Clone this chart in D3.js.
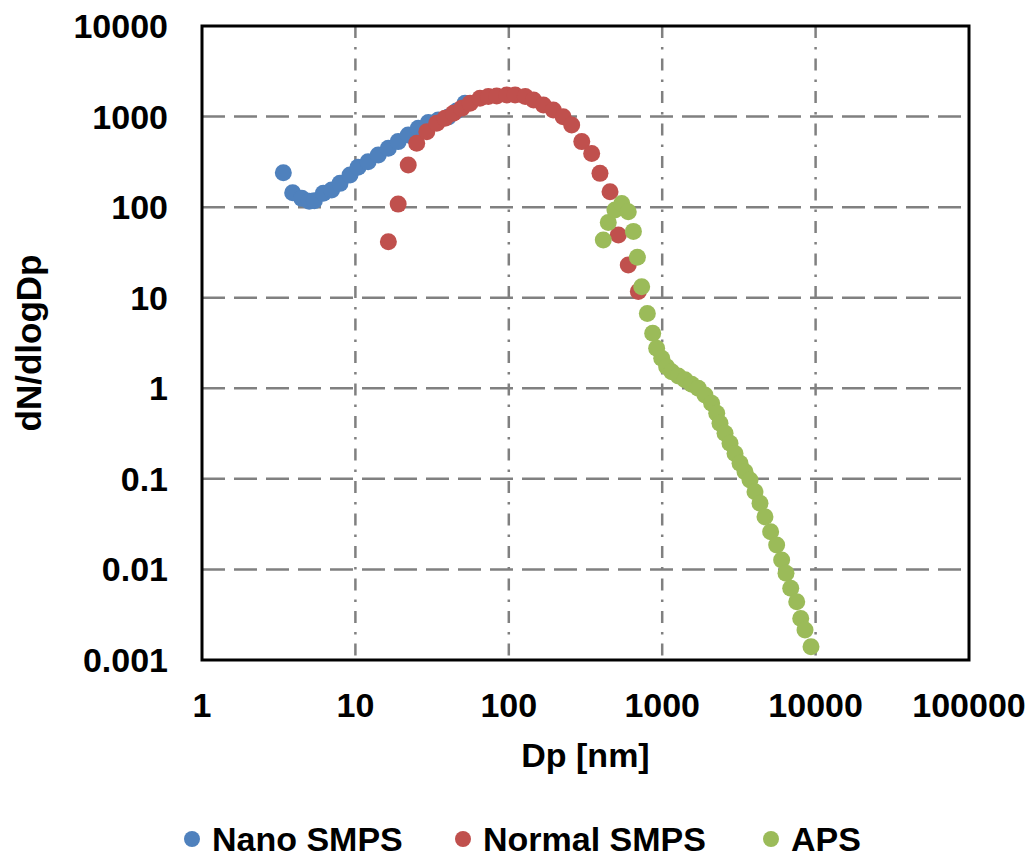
<!DOCTYPE html>
<html>
<head>
<meta charset="utf-8">
<script src="https://cdn.jsdelivr.net/npm/d3@7"></script>
<style>
  body { margin: 0; background: #fff; }
  text { font-family: "Liberation Sans", Arial, sans-serif; font-weight: bold; fill: #000; }
</style>
</head>
<body>
<svg id="chart" width="1035" height="857"></svg>
<script>
// Nano SMPS
var nanoDp = [3.39, 3.90, 4.47, 5.0, 5.4, 6.18, 7.0, 7.94, 9.22, 10.4, 12.1, 14.1, 16.4, 19.0, 22.1, 25.7, 29.9, 34.7, 40.3, 45.7, 51.8];
var nanoN  = [240, 144, 125, 116, 118, 142, 155, 183, 226, 275, 318, 377, 446, 529, 626, 743, 860, 916, 990, 1150, 1400];

// Normal SMPS
var normalDp = [16.4, 19.0, 22.1, 25.1, 29.2, 33.9, 38.4, 43.5, 49.3, 55.9, 64.9, 73.5, 83.4, 96.9, 110, 128, 145, 168, 195, 226, 257, 299, 347, 393, 457, 518, 601, 699];
var normalN  = [41.6, 108, 292, 507, 681, 843, 957, 1087, 1233, 1401, 1593, 1661, 1688, 1731, 1731, 1661, 1525, 1342, 1183, 998, 807, 529, 392, 236, 148, 49.3, 23.0, 11.7];

// APS
var apsDp = [413, 445, 492, 545, 601, 649, 689, 735, 800, 867, 920, 993, 1069, 1153, 1274, 1408, 1556, 1719, 1900, 2100, 2267, 2380, 2568, 2767, 2983, 3216, 3467, 3735, 4026, 4340, 4677, 5094, 5574, 6008, 6412, 6884, 7533, 8000, 8532, 9333];
var apsN  = [43.4, 67.5, 93, 110, 89, 54, 28, 13.2, 6.7, 4.05, 2.76, 2.14, 1.73, 1.52, 1.37, 1.24, 1.11, 1.0, 0.843, 0.683, 0.53, 0.41, 0.318, 0.247, 0.191, 0.149, 0.120, 0.097, 0.072, 0.0537, 0.0382, 0.0261, 0.0186, 0.0127, 0.00905, 0.00618, 0.0044, 0.00288, 0.00214, 0.0014];

var xTicks = [1, 10, 100, 1000, 10000, 100000];
var xTickLabels = ["1", "10", "100", "1000", "10000", "100000"];
var yTicks = [0.001, 0.01, 0.1, 1, 10, 100, 1000, 10000];
var yTickLabels = ["0.001", "0.01", "0.1", "1", "10", "100", "1000", "10000"];

var seriesNames = ["Nano SMPS", "Normal SMPS", "APS"];
var seriesColors = ["#4f81bd", "#c0504d", "#9bbb59"];

var svg = d3.select("#chart");
var plotLeft = 202, plotRight = 969, plotTop = 26, plotBottom = 660;

var x = d3.scaleLog().domain([1, 100000]).range([plotLeft, plotRight]);
var y = d3.scaleLog().domain([0.001, 10000]).range([plotBottom, plotTop]);

function drawGrid(){
    svg.selectAll("line.hgrid")
    .data(yTicks.slice(1, -1))
    .enter()
    .append("line")
    .attr("class", "hgrid")
    .attr("x1", plotLeft)
    .attr("x2", plotRight)
    .attr("y1", d => y(d))
    .attr("y2", d => y(d))
    .style("stroke", "#808080")
    .style("stroke-width", 2.5)
    .style("stroke-dasharray", "23,9");

    svg.selectAll("line.vgrid")
    .data(xTicks.slice(1, -1))
    .enter()
    .append("line")
    .attr("class", "vgrid")
    .attr("x1", d => x(d))
    .attr("x2", d => x(d))
    .attr("y1", plotTop)
    .attr("y2", plotBottom)
    .style("stroke", "#808080")
    .style("stroke-width", 2.5)
    .style("stroke-dasharray", "12,9,2.5,9");
}

function drawAxisLabels(){
    svg.selectAll("text.xtick")
    .data(xTicks)
    .enter()
    .append("text")
    .attr("class", "xtick")
    .attr("x", d => x(d))
    .attr("y", 717)
    .attr("text-anchor", "middle")
    .attr("font-size", "34px")
    .text((d, i) => xTickLabels[i]);

    svg.selectAll("text.ytick")
    .data(yTicks)
    .enter()
    .append("text")
    .attr("class", "ytick")
    .attr("x", 168)
    .attr("y", d => y(d) + 12)
    .attr("text-anchor", "end")
    .attr("font-size", "34px")
    .text((d, i) => yTickLabels[i]);

    svg.append("text")
    .attr("x", (plotLeft + plotRight) / 2)
    .attr("y", 767)
    .attr("text-anchor", "middle")
    .attr("font-size", "34px")
    .text("Dp [nm]");

    svg.append("text")
    .attr("transform", "translate(41," + ((plotTop + plotBottom) / 2) + ") rotate(-90)")
    .attr("text-anchor", "middle")
    .attr("font-size", "35px")
    .text("dN/dlogDp");
}

function drawSeries(dp, n, color){
    svg.append("g")
    .selectAll("circle")
    .data(dp)
    .enter()
    .append("circle")
    .attr("cx", d => x(d))
    .attr("cy", (d, i) => y(n[i]))
    .attr("r", 8.5)
    .style("fill", color);
}

function drawFrame(){
    svg.append("rect")
    .attr("x", plotLeft)
    .attr("y", plotTop)
    .attr("width", plotRight - plotLeft)
    .attr("height", plotBottom - plotTop)
    .style("fill", "none")
    .style("stroke", "#000")
    .style("stroke-width", 3);
}

function drawLegend(){
    var markX = [192, 463, 771];
    var g = svg.append("g");
    g.selectAll("circle")
    .data(seriesNames)
    .enter()
    .append("circle")
    .attr("cx", (d, i) => markX[i])
    .attr("cy", 839)
    .attr("r", 8)
    .style("fill", (d, i) => seriesColors[i]);

    g.selectAll("text")
    .data(seriesNames)
    .enter()
    .append("text")
    .attr("x", (d, i) => markX[i] + 20)
    .attr("y", 851)
    .attr("font-size", "34px")
    .text(d => d);
}

drawGrid();
drawSeries(nanoDp, nanoN, seriesColors[0]);
drawSeries(normalDp, normalN, seriesColors[1]);
drawSeries(apsDp, apsN, seriesColors[2]);
drawFrame();
drawAxisLabels();
drawLegend();
</script>
</body>
</html>
